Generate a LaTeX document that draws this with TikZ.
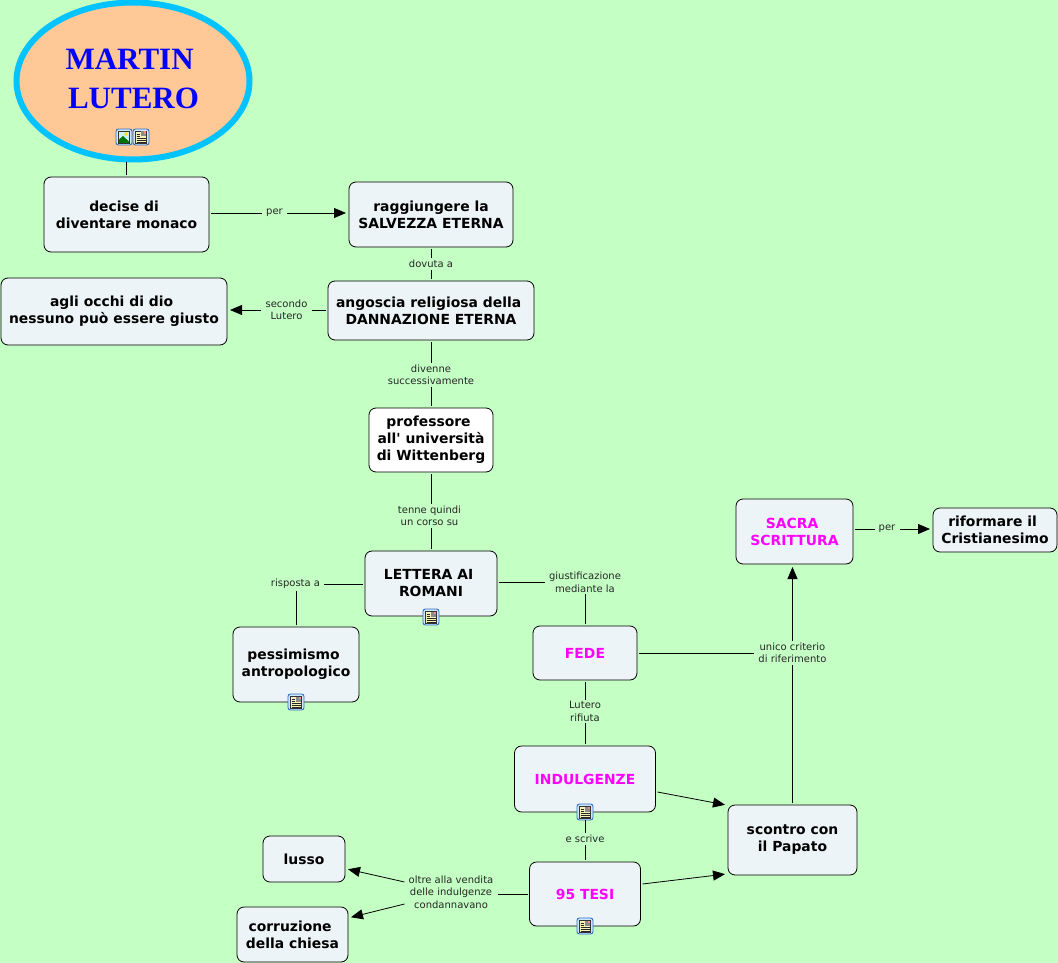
\documentclass[tikz,border=0pt]{standalone}
\usepackage{fontspec}
\setmainfont{DejaVu Sans}[Ligatures=TeXOff]
\newfontfamily\titlefont{Liberation Serif}
\usetikzlibrary{arrows.meta,shapes.geometric}
\definecolor{bggreen}{HTML}{C4FFC4}
\definecolor{boxfill}{HTML}{EDF4F7}
\definecolor{ovalfill}{HTML}{FFC896}
\definecolor{ovalline}{HTML}{00C3FF}
\definecolor{iconline}{HTML}{2F6FC0}
\definecolor{iconrim}{HTML}{CFE6FF}
\definecolor{iconpage}{HTML}{F6F2B8}
\definecolor{hotpink}{HTML}{FF00FF}
\newcommand{\tsp}{\ \mbox{}}
\tikzset{
    concept/.style={draw=black,line width=0.8pt,fill=boxfill,rounded corners=7pt,
        align=center,font=\fontsize{13.9}{17}\selectfont\bfseries,outer sep=2pt,inner sep=0pt},
    hot/.style={text=hotpink},
    lbl/.style={align=center,font=\fontsize{10}{12.5}\selectfont,text=black!85,
        inner xsep=4pt,inner ysep=1.5pt},
    link/.style={line width=0.8pt},
    arrowlink/.style={line width=0.8pt,shorten >=1pt,-{Triangle[length=12pt,width=10pt]}},
    pics/iconbase/.style={code={
        \draw[iconline,line width=0.9pt,fill=iconrim,rounded corners=2.5pt] (-8,-8) rectangle (8,8);
    }},
    pics/noteicon/.style={code={
        \pic {iconbase};
        \fill[iconpage] (-5.5,-6) rectangle (5.5,6);
        \draw[black!80,line width=0.3pt] (-5.5,-6) rectangle (5.5,6);
        \fill[black!45] (0,-5.5) rectangle (5,-0.5);
        \fill[red!45] (2.5,-5.5) rectangle (5,-3);
        \foreach \ly in {-3,-1,1,3,5}
            \draw[black!85,line width=0.5pt] (-4.5,\ly) -- (\ifnum\ly<1 -1\else 4.5\fi,\ly);
    }},
    pics/imageicon/.style={code={
        \pic {iconbase};
        \fill[cyan!20] (-5.5,-6) rectangle (5.5,6);
        \fill[green!45!black] (-5.5,6) -- (-5.5,3) -- (-1,-1) -- (5.5,5) -- (5.5,6) -- cycle;
        \fill[yellow!80!orange] (2,-3) circle (1.8);
        \draw[black!80,line width=0.3pt] (-5.5,-6) rectangle (5.5,6);
    }},
}
\begin{document}
\begin{tikzpicture}[x=1pt,y=-1pt]
    \useasboundingbox (0,0) rectangle (1058,963);
    \fill[bggreen] (0,0) rectangle (1058,963);
    % title
    \node[ellipse,draw=ovalline,fill=ovalfill,line width=6pt,minimum width=233pt,minimum height=157pt,inner sep=0pt,
        outer sep=3pt] (martin) at (133,81) {};
    \node[align=center,text=blue,font=\titlefont\fontsize{31}{39}\selectfont\bfseries] (title) at (133.5,79) {MARTIN\tsp\\LUTERO};
    \pic at (124,137) {imageicon};
    \pic at (141,137) {noteicon};
    % boxes
    \node[concept,minimum width=165pt,minimum height=75pt] (decise) at (126.5,214.5) {decise di\tsp\\diventare monaco};
    \node[concept,minimum width=164pt,minimum height=65pt] (salvezza) at (431,214.5) {raggiungere la\\SALVEZZA ETERNA};
    \node[concept,minimum width=206pt,minimum height=59pt] (angoscia) at (431,310.5) {angoscia religiosa della\tsp\\DANNAZIONE ETERNA};
    \node[concept,minimum width=226pt,minimum height=67pt] (occhi) at (114,311.5) {agli occhi di dio\tsp\\nessuno può essere giusto};
    \node[concept,fill=white,minimum width=124pt,minimum height=64pt] (professore) at (431,440) {professore\tsp\\all' università\\di Wittenberg};
    \node[concept,minimum width=132pt,minimum height=65pt] (lettera) at (431,583.5) {LETTERA AI\tsp\\ROMANI};
    \node[concept,minimum width=126pt,minimum height=75pt] (pessimismo) at (296,664.5) {pessimismo\tsp\\antropologico};
    \node[concept,hot,minimum width=104pt,minimum height=54pt] (fede) at (585,653) {FEDE};
    \node[concept,hot,minimum width=141pt,minimum height=66pt] (indulgenze) at (585,779) {INDULGENZE};
    \node[concept,hot,minimum width=111pt,minimum height=64pt] (tesi) at (585,894) {95 TESI};
    \node[concept,minimum width=129pt,minimum height=70pt] (scontro) at (792.5,840) {scontro con\\il Papato};
    \node[concept,hot,minimum width=117pt,minimum height=65pt] (sacra) at (794.5,531.5) {SACRA\tsp\\SCRITTURA};
    \node[concept,minimum width=124pt,minimum height=44pt] (riformare) at (995,530) {riformare il\tsp\\Cristianesimo};
    \node[concept,minimum width=82pt,minimum height=46pt] (lusso) at (304,859) {lusso};
    \node[concept,minimum width=111pt,minimum height=55pt] (corruzione) at (292.5,934.5) {corruzione\tsp\\della chiesa};
    % icons
    \pic at (431,617) {noteicon};
    \pic at (296,702) {noteicon};
    \pic at (585,812) {noteicon};
    \pic at (585,926) {noteicon};
    % labels
    \node[lbl] (lper) at (274.5,213) {per};
    \node[lbl] (ldovuta) at (431,264) {dovuta a};
    \node[lbl] (lsecondo) at (286.5,310) {secondo\\Lutero};
    \node[lbl] (ldivenne) at (431,375) {divenne\\successivamente};
    \node[lbl] (ltenne) at (429.5,516) {tenne quindi\\un corso su};
    \node[lbl] (lrisposta) at (295.5,584) {risposta a};
    \node[lbl] (lgiust) at (585,582.5) {giustificazione\\mediante la};
    \node[lbl] (lunico) at (792.5,653) {unico criterio\\di riferimento};
    \node[lbl] (lrifiuta) at (585,711.5) {Lutero\\rifiuta};
    \node[lbl] (lscrive) at (585,839) {e scrive};
    \node[lbl] (loltre) at (451,892) {oltre alla vendita\\delle indulgenze\\condannavano};
    \node[lbl] (lpersacra) at (887,529) {per};
    % connectors
    \draw[link] (decise.north) -- (decise.north |- martin.south);
    \draw[link] (decise.east |- lper.west) -- (lper.west);
    \draw[arrowlink] (lper.east) -- (salvezza.west |- lper.east);
    \draw[link] (salvezza) -- (ldovuta);
    \draw[link] (ldovuta) -- (angoscia);
    \draw[link] (angoscia.west |- lsecondo.east) -- (lsecondo.east);
    \draw[arrowlink] (lsecondo.west) -- (occhi.east |- lsecondo.west);
    \draw[link] (angoscia) -- (ldivenne);
    \draw[link] (ldivenne) -- (professore);
    \draw[link] (professore.south) -- (professore.south |- ltenne.north);
    \draw[link] (lettera.north) -- (lettera.north |- ltenne.south);
    \draw[link] (lettera.west |- lrisposta.east) -- (lrisposta.east);
    \draw[link] (pessimismo.north) -- (pessimismo.north |- lrisposta.south);
    \draw[link] (lettera.east |- lgiust.west) -- (lgiust.west);
    \draw[link] (fede) -- (lgiust);
    \draw[link] (fede.east |- lunico.west) -- (lunico.west);
    \draw[arrowlink] (lunico) -- (sacra.south -| lunico);
    \draw[link] (scontro.north) -- (lunico.south -| scontro.north);
    \draw[link] (fede) -- (lrifiuta);
    \draw[link] (lrifiuta) -- (indulgenze);
    \draw[arrowlink] ([yshift=-13pt]indulgenze.east) -- ([yshift=35pt]scontro.west);
    \draw[arrowlink] ([yshift=10pt]tesi.east) -- ([yshift=3pt]scontro.south west);
    \draw[link] (lscrive.north) -- (lscrive.north |- 0,820);
    \draw[link] (lscrive) -- (tesi);
    \draw[link] (tesi.west) -- (loltre.east |- tesi.west);
    \draw[arrowlink] ([yshift=10pt]loltre.west) -- ([yshift=-10pt]lusso.east);
    \draw[arrowlink] ([yshift=-12pt]loltre.west) -- ([yshift=17pt]corruzione.east);
    \draw[link] (sacra.east |- lpersacra.west) -- (lpersacra.west);
    \draw[arrowlink] (lpersacra.east) -- (riformare.west |- lpersacra.east);
\end{tikzpicture}
\end{document}
